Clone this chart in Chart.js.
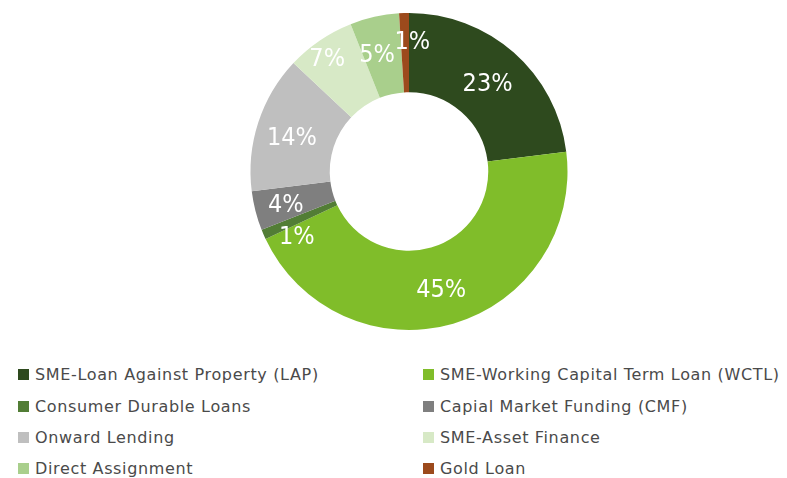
<!DOCTYPE html>
<html>
<head>
<meta charset="utf-8">
<script src="https://cdn.jsdelivr.net/npm/chart.js@4"></script>
<style>
  body { margin: 0; background: #fff; width: 787px; height: 478px; overflow: hidden; }
  #wrap { position: relative; width: 787px; height: 345px; }
  #legend {
    display: grid;
    grid-template-columns: 405px 382px;
    margin-top: 14px;
    font-family: "DejaVu Sans", sans-serif;
    font-size: 16px;
    letter-spacing: 0.65px;
    color: #4a4a4a;
  }
  .item { display: flex; align-items: center; height: 31.4px; white-space: nowrap; }
  .box { width: 11px; height: 11px; margin-right: 6px; }
  .left { padding-left: 18px; }
  .right { padding-left: 18px; }
</style>
</head>
<body>
<div id="wrap"><canvas id="donut" width="787" height="345"></canvas></div>
<div id="legend"></div>
<script>
document.addEventListener("DOMContentLoaded", function () {

  const labels = [
    "SME-Loan Against Property (LAP)",
    "SME-Working Capital Term Loan (WCTL)",
    "Consumer Durable Loans",
    "Capial Market Funding (CMF)",
    "Onward Lending",
    "SME-Asset Finance",
    "Direct Assignment",
    "Gold Loan"
  ];
  const shares = [23, 45, 1, 4, 14, 7, 5, 1];
  const colors = [
    "#2e4a1e", "#80bd2a", "#527d35", "#7f7f7f",
    "#bfbfbf", "#d7e9c6", "#a9cf8c", "#9c4a1c"
  ];
  // small nudges so the crowded labels don't sit on top of each other
  const labelNudge = [
    [0, 2], [-1, 5], [-3, 19], [-8, 4],
    [-4, 4], [-15, -14], [-6, 0], [7, -10]
  ];

  const sliceLabels = {
    id: "sliceLabels",
    afterDatasetsDraw(chart) {
      const ctx = chart.ctx;
      const meta = chart.getDatasetMeta(0);
      ctx.save();
      ctx.font = "25px 'DejaVu Sans Condensed', 'DejaVu Sans', sans-serif";
      ctx.fillStyle = "#ffffff";
      ctx.textAlign = "center";
      ctx.textBaseline = "middle";
      meta.data.forEach((arc, i) => {
        const p = arc.tooltipPosition();
        ctx.fillText(shares[i] + "%", p.x + labelNudge[i][0], p.y + labelNudge[i][1]);
      });
      ctx.restore();
    }
  };

  new Chart(document.getElementById("donut"), {
    type: "doughnut",
    data: {
      labels: labels,
      datasets: [{
        data: shares,
        backgroundColor: colors,
        borderWidth: 0
      }]
    },
    options: {
      responsive: false,
      animation: false,
      cutout: "50%",
      layout: { padding: { top: 13, bottom: 15, left: 31, right: 0 } },
      plugins: {
        legend: { display: false },
        tooltip: { enabled: false }
      }
    },
    plugins: [sliceLabels]
  });

  // legend: two columns, filled row by row
  const legend = document.getElementById("legend");
  labels.forEach((name, i) => {
    const item = document.createElement("div");
    item.className = "item " + (i % 2 === 0 ? "left" : "right");
    const box = document.createElement("span");
    box.className = "box";
    box.style.background = colors[i];
    const txt = document.createElement("span");
    txt.textContent = name;
    item.appendChild(box);
    item.appendChild(txt);
    legend.appendChild(item);
  });
});
</script>
</body>
</html>
